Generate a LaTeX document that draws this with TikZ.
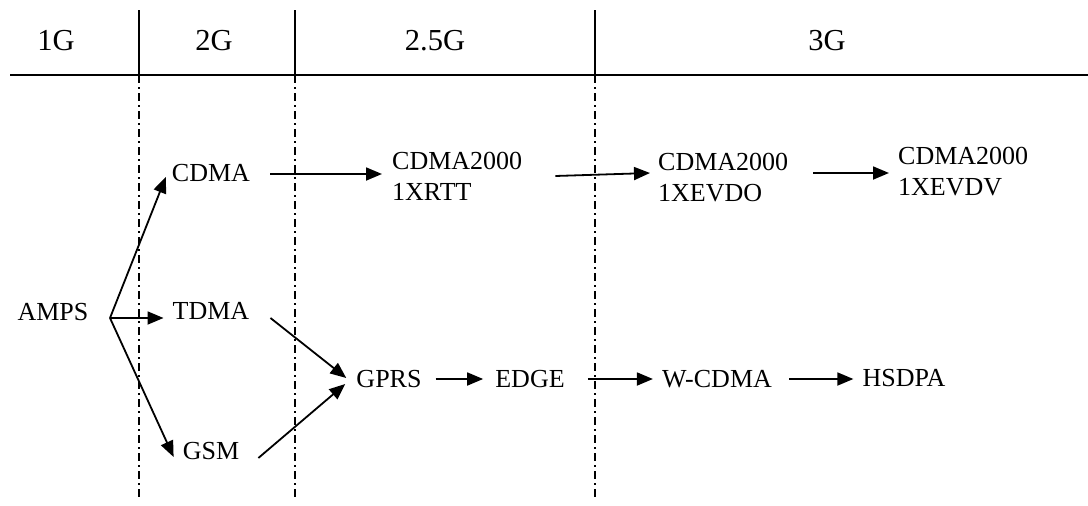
\documentclass[tikz,border=0pt]{standalone}
\usepackage{fontspec}
\setmainfont{Liberation Serif}
\usetikzlibrary{arrows.meta}
\begin{document}
\begin{tikzpicture}[x=1pt,y=-1pt,
  lbl/.style={font=\fontsize{26}{31}\selectfont, inner sep=0pt},
  ml/.style={lbl, align=left, anchor=west},
  hdr/.style={font=\fontsize{30.5}{36}\selectfont, inner sep=0pt},
  arr/.style={-{Triangle[length=16pt,width=13pt]}, line width=1.8pt},
  rule/.style={line width=2.2pt},
  tick/.style={line width=1.6pt},
  sepline/.style={line width=1.4pt, dash pattern=on 8pt off 4pt on 2pt off 4pt}]
\useasboundingbox (0,0) rectangle (1088,506);

% header
\node[hdr] (h1) at (56,41) {1G};
\node[hdr] (h2) at (214,41) {2G};
\node[hdr] (h25) at (435,41) {2.5G};
\node[hdr] (h3) at (827,41) {3G};
\draw[rule] (10,75) -- (1088,75);
\foreach \x in {139,295,595} {
  \draw[tick] (\x,10) -- (\x,75);
  \draw[sepline] (\x,75) -- (\x,500);
}

% nodes
\node[lbl] (AMPS) at (53,312) {AMPS};
\node[lbl] (CDMA) at (211,173) {CDMA};
\node[lbl] (TDMA) at (211,311) {TDMA};
\node[lbl] (GSM) at (211,451) {GSM};
\node[lbl] (GPRS) at (389,379) {GPRS};
\node[lbl] (EDGE) at (530,379) {EDGE};
\node[lbl] (WCDMA) at (717,379) {W-CDMA};
\node[lbl] (HSDPA) at (904,378) {HSDPA};
\node[ml] (RTT) at (392,176) {CDMA2000\\1XRTT};
\node[ml] (EVDO) at (658,178) {CDMA2000\\1XEVDO};
\node[ml] (EVDV) at (898,172) {CDMA2000\\1XEVDV};

\coordinate (split) at (110,318);

% connectors
\draw[arr] (split) -- ([xshift=-6pt,yshift=-4pt]CDMA.west);
\draw[arr] (split) -- ([xshift=-9pt,yshift=-7pt]TDMA.west);
\draw[arr] (split) -- ([xshift=-9pt,yshift=-6pt]GSM.west);
\draw[arr] ([xshift=21pt,yshift=-7pt]TDMA.east) -- ([xshift=-10pt,yshift=1pt]GPRS.west);
\draw[arr] ([xshift=19pt,yshift=-7pt]GSM.east) -- ([xshift=-11pt,yshift=-5pt]GPRS.west);
\draw[arr] ([xshift=20pt,yshift=-1pt]CDMA.east) -- ([xshift=-10pt,yshift=2pt]RTT.west);
\draw[arr] ([xshift=33pt]RTT.east) -- ([xshift=-8pt,yshift=5pt]EVDO.west);
\draw[arr] ([xshift=25pt,yshift=5pt]EVDO.east) -- ([xshift=-9pt,yshift=-1pt]EVDV.west);
\draw[arr] ([xshift=14pt]GPRS.east) -- ([xshift=-12pt]EDGE.west);
\draw[arr] ([xshift=23pt]EDGE.east) -- ([xshift=-9pt]WCDMA.west);
\draw[arr] ([xshift=17pt]WCDMA.east) -- ([xshift=-9pt,yshift=-1pt]HSDPA.west);
\end{tikzpicture}
\end{document}
